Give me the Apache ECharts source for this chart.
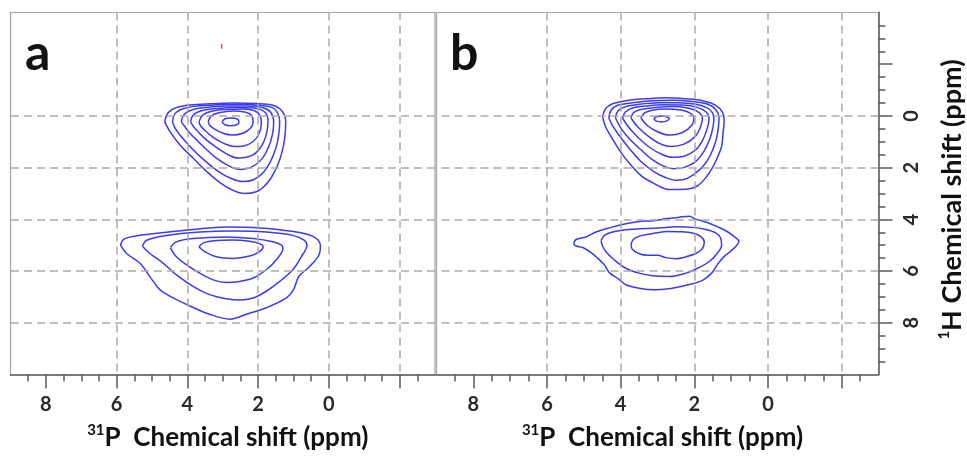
<!DOCTYPE html>
<html><head><meta charset="utf-8">
<script src="https://cdn.jsdelivr.net/npm/echarts@6/dist/echarts.min.js"></script>
<style>html,body{margin:0;padding:0;background:#fff}#chart{width:967px;height:456px}</style>
</head><body><div id="chart"></div>
<script>
// ---- axis ticks / labels (ppm) ----
const xMajorTicks = [8, 6, 4, 2, 0, -2];
const xLabels = [8, 6, 4, 2, 0];
const xMinorTicks = [8.5, 7.5, 7, 6.5, 5.5, 5, 4.5, 3.5, 3, 2.5, 1.5, 1, 0.5, -0.5, -1, -1.5, -2.5];
const yMajorTicks = [-2, 0, 2, 4, 6, 8];
const yLabels = [0, 2, 4, 6, 8];
const yMinorTicks = [-3.5, -3, -2.5, -1.5, -1, -0.5, 0.5, 1, 1.5, 2.5, 3, 3.5, 4.5, 5, 5.5, 6.5, 7, 7.5, 8.5, 9, 9.5];
const gridX = [6, 4, 2, 0, -2];
const gridY = [0, 2, 4, 6, 8];
const xRange = [-3, 9];
const yRange = [-4, 10];

// ---- contours, panel a, [31P ppm, 1H ppm] ----
const aUpper1 = [[4.64,0.23],[4.54,-0.13],[4.31,-0.32],[3.93,-0.42],[3.37,-0.47],[2.71,-0.50],[2.05,-0.48],[1.58,-0.41],[1.32,-0.18],[1.22,0.23],[1.25,0.87],[1.32,1.37],[1.44,1.88],[1.63,2.39],[1.86,2.77],[2.05,2.93],[2.38,3.00],[2.71,2.88],[3.08,2.58],[3.46,2.14],[3.84,1.63],[4.21,1.12],[4.49,0.61]];
const aUpper2 = [[4.42,0.23],[4.35,-0.09],[4.12,-0.28],[3.74,-0.38],[3.18,-0.43],[2.52,-0.45],[1.96,-0.41],[1.58,-0.31],[1.44,-0.09],[1.39,0.23],[1.42,0.74],[1.50,1.25],[1.65,1.76],[1.86,2.20],[2.13,2.47],[2.43,2.54],[2.76,2.42],[3.13,2.14],[3.51,1.73],[3.88,1.25],[4.21,0.74],[4.35,0.46]];
const aUpper3 = [[4.17,0.23],[4.10,-0.05],[3.88,-0.23],[3.46,-0.33],[2.90,-0.38],[2.33,-0.38],[1.86,-0.32],[1.65,-0.15],[1.56,0.23],[1.60,0.74],[1.72,1.25],[1.91,1.69],[2.19,1.98],[2.50,2.07],[2.80,1.95],[3.18,1.63],[3.55,1.18],[3.88,0.74],[4.07,0.42]];
const aUpper4 = [[3.91,0.23],[3.84,-0.03],[3.60,-0.20],[3.18,-0.29],[2.61,-0.33],[2.14,-0.31],[1.84,-0.18],[1.72,0.17],[1.75,0.61],[1.86,1.06],[2.07,1.44],[2.33,1.60],[2.57,1.63],[2.85,1.50],[3.18,1.22],[3.51,0.87],[3.79,0.48]];
const aUpper5 = [[3.67,0.23],[3.57,-0.03],[3.32,-0.18],[2.90,-0.25],[2.43,-0.27],[2.10,-0.20],[1.94,0.00],[1.91,0.29],[1.97,0.67],[2.14,0.99],[2.41,1.16],[2.66,1.18],[2.94,1.08],[3.23,0.87],[3.48,0.59],[3.63,0.38]];
const aUpper6 = [[3.41,0.23],[3.32,0.00],[3.08,-0.13],[2.71,-0.19],[2.38,-0.15],[2.19,-0.03],[2.14,0.23],[2.22,0.48],[2.43,0.67],[2.73,0.74],[2.99,0.67],[3.23,0.51],[3.37,0.36]];
const aUpper7 = [[3.02,0.23],[2.94,0.11],[2.78,0.08],[2.61,0.11],[2.54,0.23],[2.61,0.34],[2.78,0.38],[2.94,0.34]];
const aLower1 = [[5.89,5.00],[5.81,4.78],[5.53,4.66],[4.78,4.53],[3.84,4.39],[2.90,4.30],[1.96,4.33],[1.11,4.45],[0.45,4.66],[0.24,5.00],[0.28,5.38],[0.55,5.83],[0.85,6.21],[1.00,6.72],[1.20,7.04],[1.77,7.42],[2.33,7.67],[2.80,7.86],[3.37,7.67],[3.93,7.35],[4.40,7.04],[4.78,6.72],[5.01,6.31],[5.34,5.70],[5.72,5.32]];
const aLower2 = [[5.27,5.04],[5.15,4.81],[4.59,4.62],[3.65,4.49],[2.71,4.45],[1.77,4.49],[1.02,4.62],[0.69,4.81],[0.62,5.00],[0.78,5.45],[1.02,5.95],[1.39,6.40],[1.77,6.78],[2.14,7.04],[2.52,7.12],[2.90,7.07],[3.37,6.91],[3.84,6.59],[4.31,6.15],[4.68,5.70],[5.06,5.32]];
const aLower3 = [[4.48,5.09],[4.31,4.87],[3.84,4.74],[2.90,4.68],[2.14,4.74],[1.58,4.87],[1.34,5.00],[1.30,5.13],[1.49,5.57],[1.77,5.95],[2.14,6.27],[2.52,6.40],[2.90,6.44],[3.27,6.34],[3.65,6.08],[4.02,5.76],[4.31,5.45]];
const aLower4 = [[3.67,5.06],[3.55,4.91],[3.18,4.82],[2.71,4.80],[2.24,4.85],[1.96,4.94],[1.86,5.06],[1.96,5.25],[2.24,5.42],[2.71,5.51],[3.18,5.45],[3.51,5.25]];
const aNoise = [[3.03,-2.78],[3.03,-2.60]];

// ---- contours, panel b ----
const bUpper1 = [[4.49,0.04],[4.41,-0.28],[4.22,-0.47],[3.86,-0.59],[3.32,-0.66],[2.77,-0.70],[2.23,-0.66],[1.78,-0.59],[1.42,-0.41],[1.24,-0.15],[1.19,0.17],[1.22,0.67],[1.26,1.18],[1.38,1.63],[1.51,2.01],[1.69,2.39],[1.92,2.71],[2.23,2.84],[2.68,2.85],[2.91,2.75],[3.14,2.58],[3.43,2.33],[3.77,1.82],[4.04,1.31],[4.26,0.80],[4.41,0.42]];
const bUpper2 = [[4.32,0.08],[4.26,-0.22],[4.08,-0.41],[3.68,-0.51],[3.14,-0.59],[2.59,-0.61],[2.05,-0.56],[1.65,-0.46],[1.42,-0.25],[1.33,0.08],[1.35,0.48],[1.42,0.99],[1.56,1.50],[1.74,1.91],[2.01,2.26],[2.28,2.46],[2.50,2.49],[2.77,2.39],[3.09,2.16],[3.45,1.76],[3.77,1.25],[4.05,0.74],[4.23,0.36]];
const bUpper3 = [[4.14,0.08],[4.08,-0.18],[3.90,-0.34],[3.50,-0.45],[2.95,-0.51],[2.41,-0.51],[1.96,-0.45],[1.65,-0.31],[1.51,-0.13],[1.47,0.10],[1.50,0.48],[1.59,0.93],[1.74,1.37],[1.96,1.76],[2.25,1.98],[2.55,2.04],[2.82,1.95],[3.14,1.69],[3.45,1.31],[3.77,0.87],[3.99,0.48]];
const bUpper4 = [[3.95,0.08],[3.87,-0.15],[3.68,-0.31],[3.32,-0.38],[2.82,-0.43],[2.32,-0.42],[1.92,-0.33],[1.68,-0.15],[1.60,0.10],[1.65,0.48],[1.77,0.93],[1.96,1.31],[2.28,1.56],[2.59,1.60],[2.86,1.50],[3.18,1.25],[3.50,0.87],[3.77,0.46]];
const bUpper5 = [[3.72,0.08],[3.65,-0.13],[3.45,-0.25],[3.05,-0.33],[2.59,-0.36],[2.19,-0.31],[1.92,-0.18],[1.78,0.08],[1.83,0.42],[1.98,0.80],[2.28,1.09],[2.64,1.18],[2.95,1.06],[3.27,0.76],[3.54,0.42]];
const bUpper6 = [[3.45,0.08],[3.36,-0.11],[3.14,-0.22],[2.77,-0.27],[2.41,-0.24],[2.14,-0.13],[2.01,0.08],[2.07,0.36],[2.32,0.64],[2.68,0.74],[3.00,0.61],[3.27,0.38]];
const bUpper7 = [[3.10,0.11],[3.03,0.03],[2.89,0.00],[2.76,0.03],[2.68,0.11],[2.76,0.20],[2.89,0.23],[3.03,0.20]];
const bLower1 = [[5.28,4.94],[5.21,4.78],[4.94,4.68],[4.67,4.49],[4.31,4.33],[3.86,4.17],[3.45,4.07],[3.09,4.05],[2.73,3.97],[2.41,3.92],[2.14,3.88],[1.96,3.99],[1.65,4.12],[1.38,4.28],[1.11,4.47],[0.90,4.69],[0.79,4.85],[0.93,5.13],[1.20,5.45],[1.38,5.76],[1.53,6.08],[1.78,6.36],[2.19,6.54],[2.64,6.67],[3.09,6.72],[3.50,6.66],[3.86,6.53],[4.05,6.31],[4.31,6.06],[4.44,5.76],[4.62,5.51],[4.80,5.29],[5.03,5.09],[5.21,5.03]];
const bLower2 = [[4.53,4.81],[4.44,4.62],[4.22,4.49],[3.86,4.40],[3.32,4.35],[2.95,4.33],[2.50,4.29],[2.05,4.31],[1.69,4.39],[1.42,4.52],[1.29,4.71],[1.26,5.00],[1.38,5.32],[1.60,5.64],[1.87,5.86],[2.23,6.08],[2.68,6.21],[3.14,6.18],[3.50,6.08],[3.86,5.89],[4.17,5.57],[4.40,5.25],[4.50,5.00]];
const bLower3 = [[3.72,5.00],[3.66,4.78],[3.45,4.63],[3.05,4.53],[2.73,4.47],[2.37,4.48],[2.05,4.53],[1.83,4.66],[1.73,4.87],[1.78,5.13],[1.96,5.32],[2.23,5.45],[2.50,5.52],[2.77,5.48],[3.00,5.39],[3.27,5.39],[3.51,5.32],[3.68,5.17]];

const panelAContours = [aUpper1, aUpper2, aUpper3, aUpper4, aUpper5, aUpper6, aUpper7, aLower1, aLower2, aLower3, aLower4];
const panelBContours = [bUpper1, bUpper2, bUpper3, bUpper4, bUpper5, bUpper6, bUpper7, bLower1, bLower2, bLower3];
const panelLetters = ['a', 'b'];
const xTitleSup = '31', xTitleMain = 'P  Chemical shift (ppm)';
const yTitleSup = '1', yTitleMain = 'H Chemical shift (ppm)';

// ---- styling ----
const FONT = 'Lato';
const CONTOUR = '#3c3cee';
const TICKC = '#5a5a5a';
const AXISC = '#7a7a7a';
const GRIDC = '#ababab';
const FRAMEC = '#a6a6a6';

const xTitleRich = {
  s: {fontSize: 15, fontWeight: 'bold', fontFamily: FONT, color: '#111', verticalAlign: 'top', lineHeight: 15},
  t: {fontSize: 26, fontWeight: 'bold', fontFamily: FONT, color: '#111', lineHeight: 31}
};
const yTitleRich = {
  s: {fontSize: 15, fontWeight: 'bold', fontFamily: FONT, color: '#111', verticalAlign: 'top', lineHeight: 15},
  t: {fontSize: 27, fontWeight: 'bold', fontFamily: FONT, color: '#111', lineHeight: 32}
};
const labelStyle = {fontSize: 20, fontWeight: 'bold', color: '#2a2a2a', fontFamily: FONT};

function xMain(gi) {
  return {
    gridIndex: gi, type: 'value', min: xRange[0], max: xRange[1], inverse: true, position: 'bottom',
    axisLine: {show: true, onZero: false, lineStyle: {color: AXISC, width: 2}},
    axisTick: {show: true, customValues: xMajorTicks, length: 14, lineStyle: {color: TICKC, width: 1.5}},
    axisLabel: {show: true, customValues: xLabels, margin: 20, ...labelStyle},
    splitLine: {show: false},
    name: '{s|' + xTitleSup + '}{t|' + xTitleMain + '}', nameLocation: 'middle', nameGap: 48,
    nameTextStyle: {rich: xTitleRich, padding: [0, 0, 0, 10]}
  };
}
function xMinor(gi) {
  return {
    gridIndex: gi, type: 'value', min: xRange[0], max: xRange[1], inverse: true, position: 'bottom',
    axisLine: {show: false, onZero: false},
    axisTick: {show: true, customValues: xMinorTicks, length: 7, lineStyle: {color: TICKC, width: 1.5}},
    axisLabel: {show: false}, splitLine: {show: false}
  };
}

const option = {
  animation: false,
  backgroundColor: '#fff',
  title: [
    {text: panelLetters[0], left: 20, top: 24, textStyle: {fontSize: 50, fontWeight: 'bold', fontFamily: FONT, color: '#111'}},
    {text: panelLetters[1], left: 445, top: 24, textStyle: {fontSize: 50, fontWeight: 'bold', fontFamily: FONT, color: '#111'}}
  ],
  grid: [
    {left: 10.5, top: 12.5, width: 424.5, height: 367, show: true, borderColor: FRAMEC, borderWidth: 1.2, backgroundColor: 'transparent'},
    {left: 436.5, top: 12.5, width: 444, height: 366, show: true, borderColor: FRAMEC, borderWidth: 1.2, backgroundColor: 'transparent'}
  ],
  xAxis: [xMain(0), xMinor(0), xMain(1), xMinor(1)],
  yAxis: [
    {gridIndex: 0, type: 'value', min: yRange[0], max: yRange[1], inverse: true, show: false, axisLine: {onZero: false}},
    {gridIndex: 1, type: 'value', min: yRange[0], max: yRange[1], inverse: true, position: 'right',
      axisLine: {show: true, onZero: false, lineStyle: {color: AXISC, width: 2}},
      axisTick: {show: true, customValues: yMajorTicks, length: 14, lineStyle: {color: TICKC, width: 1.5}},
      axisLabel: {show: true, customValues: yLabels, rotate: 90, margin: 23, ...labelStyle},
      splitLine: {show: false},
      name: '{s|' + yTitleSup + '}{t|' + yTitleMain + '}', nameLocation: 'middle', nameRotate: 90, nameGap: 58,
      nameTextStyle: {rich: yTitleRich, padding: [0, 12, 0, 0]}},
    {gridIndex: 1, type: 'value', min: yRange[0], max: yRange[1], inverse: true, position: 'right',
      axisLine: {show: false, onZero: false},
      axisTick: {show: true, customValues: yMinorTicks, length: 7, lineStyle: {color: TICKC, width: 1.5}},
      axisLabel: {show: false}, splitLine: {show: false}}
  ],
  series: []
};

function gridMarkLine() {
  return {
    silent: true, symbol: ['none', 'none'], label: {show: false},
    lineStyle: {color: GRIDC, width: 1.5, type: [8, 5]},
    emphasis: {disabled: true},
    data: gridX.map(v => ({xAxis: v})).concat(gridY.map(v => ({yAxis: v})))
  };
}
function contourSeries(ring, xi, yi) {
  return {type: 'line', xAxisIndex: xi, yAxisIndex: yi, data: ring.concat([ring[0]]),
    smooth: 0.35, symbol: 'none', silent: true,
    lineStyle: {color: CONTOUR, width: 1.5}};
}
panelAContours.forEach((r, i) => {
  const s = contourSeries(r, 0, 0);
  if (i === 0) s.markLine = gridMarkLine();
  option.series.push(s);
});
panelBContours.forEach((r, i) => {
  const s = contourSeries(r, 2, 1);
  if (i === 0) s.markLine = gridMarkLine();
  option.series.push(s);
});
option.series.push({type: 'line', xAxisIndex: 0, yAxisIndex: 0, data: aNoise, symbol: 'none', silent: true,
  lineStyle: {color: '#ff2a2a', width: 1.2}});

const chart = echarts.init(document.getElementById('chart'));
chart.setOption(option);
</script>
</body></html>
